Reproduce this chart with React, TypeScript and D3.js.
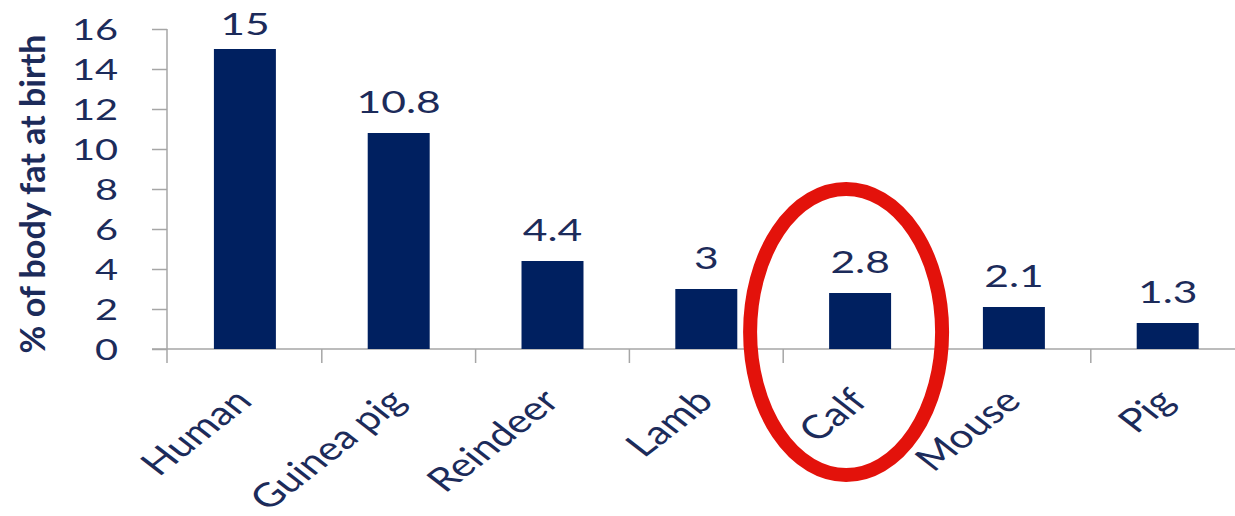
import React, { useRef, useEffect } from "react";
import * as d3 from "d3";

const categories = ["Human", "Guinea pig", "Reindeer", "Lamb", "Calf", "Mouse", "Pig"];
const values = [15, 10.8, 4.4, 3, 2.8, 2.1, 1.3];
const yTicks = [0, 2, 4, 6, 8, 10, 12, 14, 16];
const yTitle = "% of body fat at birth";
const highlighted = "Calf";

const App = () => {
    const ref = useRef<SVGSVGElement>(null);

    useEffect(() => {
        if (!ref.current) return;
        const svg = d3.select(ref.current);
        svg.selectAll("*").remove();

        const W = 1235;
        const sx = 1.42; // the original picture is stretched horizontally
        const sxLabel = 1.28; // rotated labels look a bit steeper
        const ink = "#1c2b5a";
        const navy = "#002060";
        const grey = "#a6a6a6";
        const font = "Lato, 'Open Sans', sans-serif";

        const x = d3.scaleBand<string>().domain(categories).range([168, 168 + 7 * 153.8]);
        const y = d3.scaleLinear().domain([0, 16]).range([349, 29]);
        const bw = x.bandwidth();
        const barW = bw * 0.403;

        // y axis
        const yAxis = svg
            .append("g")
            .attr("transform", "translate(167,0)")
            .call(d3.axisLeft(y).tickValues(yTicks).tickSize(15).tickFormat(d3.format("d")));
        yAxis.select(".domain").remove();
        yAxis.selectAll(".tick line").attr("stroke", grey).attr("stroke-width", 1.5);
        yAxis
            .selectAll(".tick text")
            .attr("x", 0)
            .attr("dy", null)
            .attr("transform", `translate(${118 - 167},10) scale(${sx},1)`)
            .attr("text-anchor", "end")
            .attr("font-family", font)
            .attr("font-size", 28)
            .attr("fill", ink);
        svg.append("line")
            .attr("x1", 167).attr("x2", 167)
            .attr("y1", y(16)).attr("y2", y(0) + 14)
            .attr("stroke", grey).attr("stroke-width", 1.5);

        // x axis line and category boundaries
        svg.append("line")
            .attr("x1", 152).attr("x2", W)
            .attr("y1", y(0)).attr("y2", y(0))
            .attr("stroke", grey).attr("stroke-width", 1.5);
        svg.selectAll(".bound")
            .data(categories.slice(1))
            .join("line")
            .attr("x1", (d) => x(d)!).attr("x2", (d) => x(d)!)
            .attr("y1", y(0)).attr("y2", y(0) + 14)
            .attr("stroke", grey).attr("stroke-width", 1.5);

        // bars
        svg.selectAll(".bar")
            .data(categories)
            .join("rect")
            .attr("x", (d) => x(d)! + (bw - barW) / 2)
            .attr("width", barW)
            .attr("y", (d, i) => y(values[i]))
            .attr("height", (d, i) => y(0) - y(values[i]))
            .attr("fill", navy);

        // value labels
        svg.selectAll(".val")
            .data(categories)
            .join("text")
            .attr("transform", (d, i) =>
                `translate(${x(d)! + bw / 2},${Math.max(y(values[i]) - 20, 35)}) scale(${sx},1)`)
            .attr("text-anchor", "middle")
            .attr("font-family", font)
            .attr("font-size", 30)
            .attr("fill", ink)
            .text((d, i) => String(values[i]));

        // category labels
        const xAxis = svg
            .append("g")
            .attr("transform", `translate(0,${y(0)})`)
            .call(d3.axisBottom(x).tickSize(0));
        xAxis.select(".domain").remove();
        xAxis
            .selectAll(".tick text")
            .attr("x", 0)
            .attr("y", 0)
            .attr("dy", null)
            .attr("transform", `translate(9,54) scale(${sxLabel},1) rotate(-45)`)
            .attr("text-anchor", "end")
            .attr("font-family", font)
            .attr("font-size", 33)
            .attr("fill", ink);

        // y title
        svg.append("text")
            .attr("transform", "translate(45,194) rotate(-90)")
            .attr("text-anchor", "middle")
            .attr("font-family", font)
            .attr("font-weight", "bold")
            .attr("font-size", 34)
            .attr("fill", ink)
            .text(yTitle);

        // red ring round the highlighted category
        svg.append("ellipse")
            .attr("cx", x(highlighted)! + bw / 2 - 14)
            .attr("cy", 332)
            .attr("rx", 96)
            .attr("ry", 143)
            .attr("fill", "none")
            .attr("stroke", "#e3120b")
            .attr("stroke-width", 14);
    }, []);

    return (
        <svg
            ref={ref}
            width={1235}
            height={516}
            style={{ position: "absolute", left: 0, top: 0, background: "#fff" }}
        />
    );
};

export default App;
